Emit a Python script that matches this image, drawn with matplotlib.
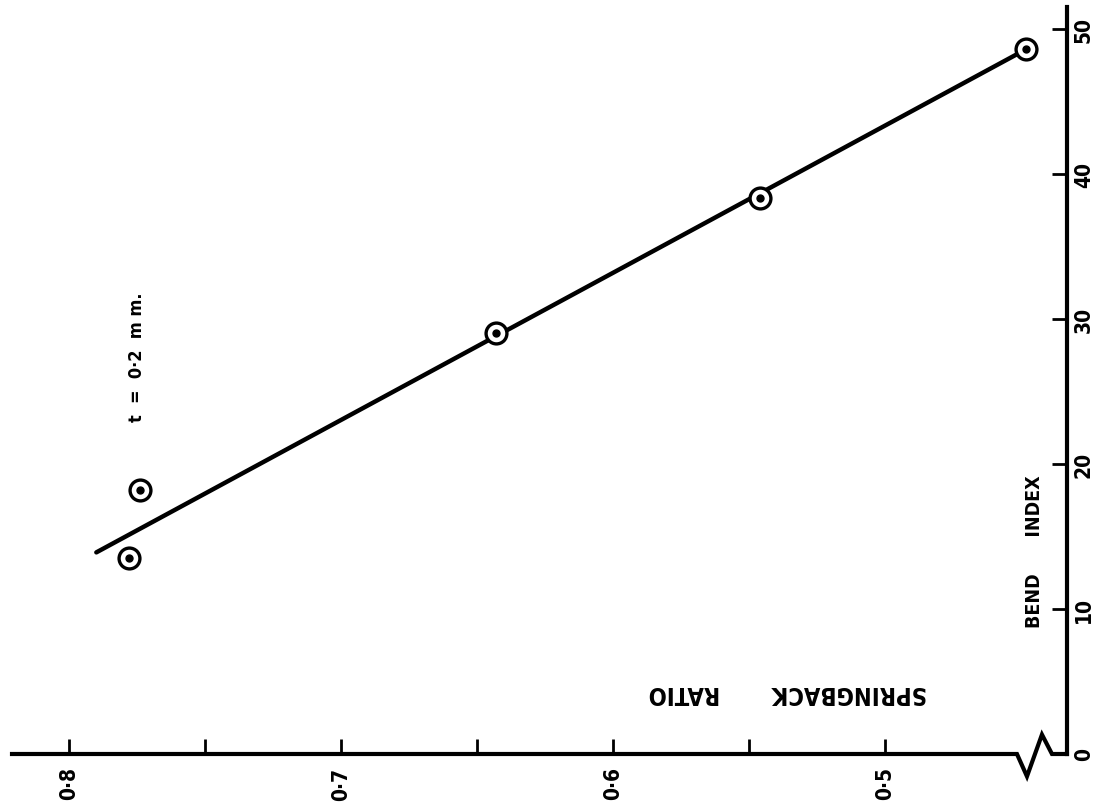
import matplotlib
matplotlib.use('Agg')
import matplotlib.pyplot as plt

# narrow bold lettering like the stencilled original
plt.rcParams['font.family'] = 'DejaVu Sans'
plt.rcParams['font.stretch'] = 'condensed'
plt.rcParams['font.weight'] = 'bold'

# measured points (springback ratio vs bend index), t = 0.2 mm
ratio = [0.778, 0.774, 0.643, 0.546, 0.448]
bend_index = [13.5, 18.2, 29.0, 38.3, 48.6]

# fitted line end points
line_ratio = [0.790, 0.448]
line_bend = [13.9, 48.6]

ratio_ticks = [0.8, 0.75, 0.7, 0.65, 0.6, 0.55, 0.5]
ratio_labels = ['0·8', '', '0·7', '', '0·6', '', '0·5']
bend_ticks = [0, 10, 20, 30, 40, 50]

fig = plt.figure(figsize=(11.02, 8.12), dpi=100)
ax = fig.add_axes([0.0109, 0.0702, 0.9573, 0.9199])

ax.plot(line_ratio, line_bend, color='black', lw=3.2, solid_capstyle='round', zorder=2)
ax.plot(ratio, bend_index, 'o', ms=15, mfc='white', mec='black', mew=2.4, zorder=3)
ax.plot(ratio, bend_index, 'o', ms=5, color='black', zorder=4)

ax.set_xlim(0.8210, 0.4331)
ax.set_ylim(0, 51.5)

# right spine is the bend index axis, bottom axis drawn by hand with a break
for s in ['left', 'top', 'bottom']:
    ax.spines[s].set_visible(False)
ax.spines['right'].set_linewidth(3)

ax.plot([0, 0.9526, 0.9621, 0.9763, 0.9858, 1.0], [0, 0, -0.030, 0.026, 0, 0],
        color='black', lw=3, transform=ax.transAxes, clip_on=False,
        solid_joinstyle='miter')

ax.set_xticks(ratio_ticks)
ax.set_xticklabels(ratio_labels, rotation=90, fontsize=15)
ax.tick_params(axis='x', direction='in', length=11, width=2, pad=9)

ax.yaxis.tick_right()
ax.set_yticks(bend_ticks)
ax.set_yticklabels([str(v) for v in bend_ticks], rotation=90, va='center', fontsize=15)
ax.tick_params(axis='y', direction='in', length=11, width=2, pad=5)

ax.text(0.7355, 0.083, 'SPRINGBACK       RATIO', rotation=180, transform=ax.transAxes,
        ha='center', va='center', fontsize=17)
ax.text(0.969, 0.2724, 'BEND      INDEX', rotation=90, transform=ax.transAxes,
        ha='center', va='center', fontsize=14)
ax.text(0.775, 27.4, 't  =  0·2  m m.', rotation=90, ha='center', va='center',
        fontsize=13)

fig.savefig('out.png', dpi=100)
